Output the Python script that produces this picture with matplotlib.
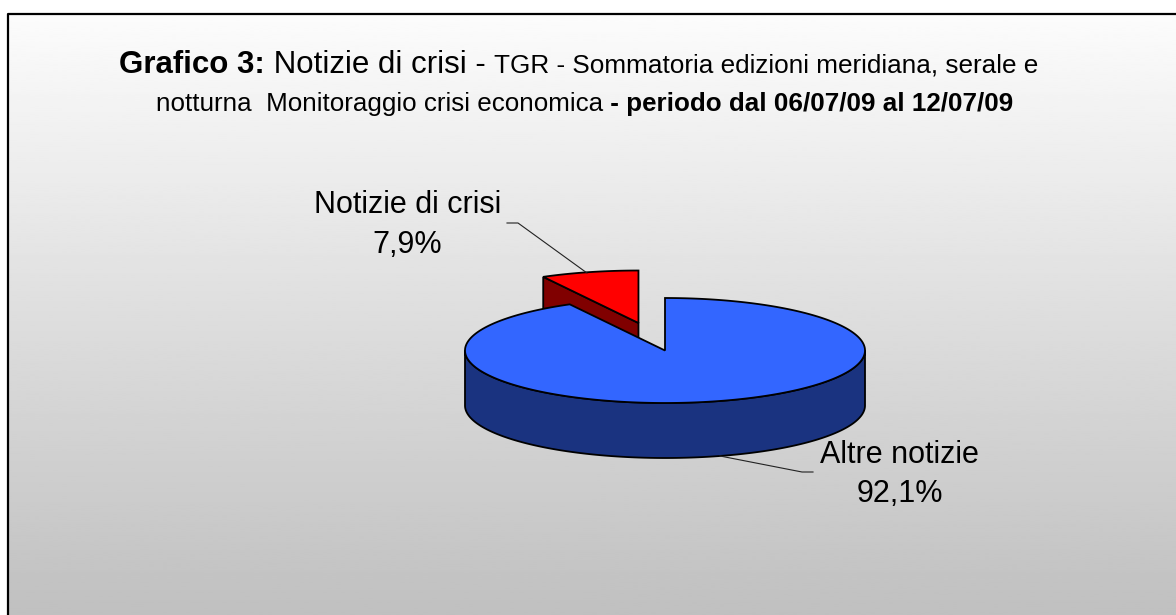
import matplotlib
matplotlib.use('Agg')
import matplotlib.pyplot as plt
from matplotlib.patches import Polygon
import numpy as np

# dati del grafico
labels = ['Altre notizie', 'Notizie di crisi']
values = [92.1, 7.9]
top_colors = ['#3366ff', '#ff0000']
side_colors = ['#1a3380', '#800000']

plt.rcParams['font.family'] = ['Liberation Sans', 'DejaVu Sans']

W, H = 1176, 615
fig = plt.figure(figsize=(W / 100, H / 100), dpi=100)
ax = fig.add_axes([0, 0, 1, 1])
ax.set_xlim(0, W)
ax.set_ylim(H, 0)
ax.axis('off')

# sfondo sfumato con bordo
grad = np.linspace(252, 192, 300).reshape(-1, 1) / 255.0
ax.imshow(grad, extent=(7.5, W, H, 13.5), cmap='gray', vmin=0, vmax=1,
          aspect='auto', zorder=0)
ax.plot([7.5, 7.5, W], [H, 13.5, 13.5], color='black', lw=1.6, zorder=1)

# titolo a pezzi (grassetto / normale, dimensioni diverse)
renderer = fig.canvas.get_renderer()


def rich_line(pieces, xc, y):
    texts = []
    for s, weight, size in pieces:
        t = ax.text(0, y, s, fontsize=size, fontweight=weight, va='baseline',
                    ha='left', zorder=5)
        texts.append(t)
    widths = [t.get_window_extent(renderer).width for t in texts]
    x = xc - sum(widths) / 2
    for t, w in zip(texts, widths):
        t.set_x(x)
        x += w


rich_line([('Grafico 3:', 'bold', 22.5),
           (' Notizie di crisi - ', 'normal', 22.5),
           ('TGR - Sommatoria edizioni meridiana, serale e', 'normal', 18.8)],
          579, 73)
rich_line([('notturna  Monitoraggio crisi economica', 'normal', 18.7),
           (' - periodo dal 06/07/09 al 12/07/09', 'bold', 18.7)],
          585, 111)

# torta 3D
cx, cy, a, b, depth = 665, 350.5, 200, 52.5, 55
explode = [0, 0.54]


def pt(x0, y0, t):
    return x0 + a * np.cos(t), y0 - b * np.sin(t)


fracs = np.array(values) / sum(values)
# la fetta rossa parte da ore 12 in senso antiorario, la blu copre il resto
red_lo, red_hi = np.pi / 2, np.pi / 2 + 2 * np.pi * fracs[1]
blue_lo, blue_hi = red_hi, red_hi + 2 * np.pi * fracs[0]

# fetta esplosa (rossa)
mid = (red_lo + red_hi) / 2
rx = cx + explode[1] * a * np.cos(mid)
ry = cy - explode[1] * b * np.sin(mid)
ex, ey = pt(rx, ry, red_hi)
face = [(rx, ry), (ex, ey), (ex, ey + depth), (rx, ry + depth)]
ax.add_patch(Polygon(face, closed=True, fc=side_colors[1], ec='black',
                     lw=1.3, zorder=2))
tt = np.linspace(red_lo, red_hi, 60)
xs, ys = pt(rx, ry, tt)
top = [(rx, ry)] + list(zip(xs, ys))
ax.add_patch(Polygon(top, closed=True, fc=top_colors[1], ec='black',
                     lw=1.3, zorder=3))

# fetta blu: parete laterale anteriore + faccia superiore
tt = np.linspace(np.pi, 2 * np.pi, 200)
xs, ys = pt(cx, cy, tt)
wall = list(zip(xs, ys)) + list(zip(xs[::-1], ys[::-1] + depth))
ax.add_patch(Polygon(wall, closed=True, fc=side_colors[0], ec='black',
                     lw=1.3, zorder=4))
tt = np.linspace(blue_lo, blue_hi, 400)
xs, ys = pt(cx, cy, tt)
top = [(cx, cy)] + list(zip(xs, ys))
ax.add_patch(Polygon(top, closed=True, fc=top_colors[0], ec='black',
                     lw=1.3, zorder=4))


# etichette con linee guida
def fmt(v):
    return f'{v:.1f}%'.replace('.', ',')


ax.plot([507, 518, 587], [223, 223, 273], color='#222222', lw=0.8, zorder=5)
ax.text(408, 213, labels[1], fontsize=22, ha='center', va='baseline', zorder=5)
ax.text(407, 253, fmt(values[1]), fontsize=22, ha='center', va='baseline', zorder=5)

ax.plot([720, 802, 813], [456, 472, 472], color='#222222', lw=0.8, zorder=5)
ax.text(899, 463, labels[0], fontsize=22, ha='center', va='baseline', zorder=5)
ax.text(900, 502, fmt(values[0]), fontsize=22, ha='center', va='baseline', zorder=5)

fig.savefig('out.png', dpi=100)
